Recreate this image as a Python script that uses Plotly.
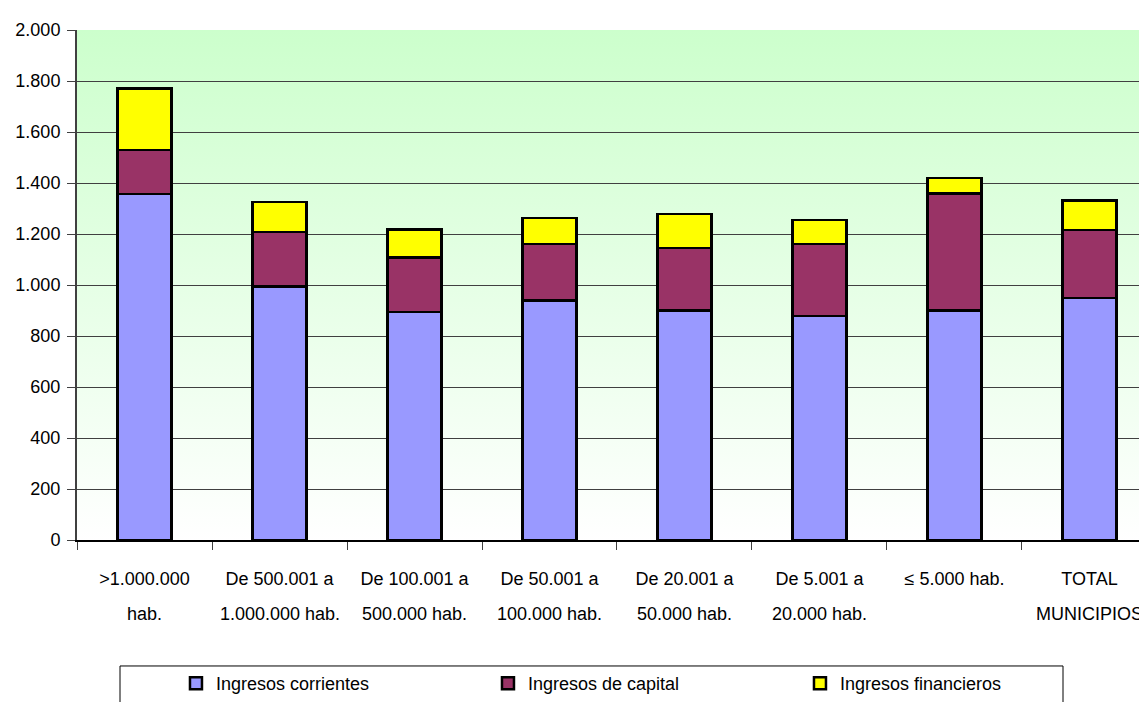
import base64

import plotly.graph_objects as go

# Categories (line 1 / line 2 of each label).
label_top = ['>1.000.000', 'De 500.001 a', 'De 100.001 a', 'De 50.001 a',
             'De 20.001 a', 'De 5.001 a', '≤ 5.000 hab.', 'TOTAL']
label_bottom = ['hab.', '1.000.000 hab.', '500.000 hab.', '100.000 hab.',
                '50.000 hab.', '20.000 hab.', '', 'MUNICIPIOS']
categories = [f'{a} {b}'.strip() for a, b in zip(label_top, label_bottom)]

# Series values (euros per inhabitant).
corrientes = [1357, 995, 894, 940, 901, 878, 901, 949]
capital = [172, 212, 213, 220, 245, 283, 457, 267]
financieros = [242, 118, 110, 103, 132, 94, 62, 116]

y_ticks = list(range(0, 2001, 200))

FONT = 'Liberation Sans, Arial, sans-serif'

series = [
    ('Ingresos corrientes', corrientes, '#9999FF'),
    ('Ingresos de capital', capital, '#993366'),
    ('Ingresos financieros', financieros, '#FFFF00'),
]

traces = []
for name, values, color in series:
    traces.append(go.Bar(
        x=categories,
        y=values,
        name=name,
        width=0.4,
        marker={'color': color, 'line': {'color': 'black', 'width': 2.5}},
    ))

# Green-to-white background of the plot area.
svg = ('<svg xmlns="http://www.w3.org/2000/svg" width="100" height="100" '
       'preserveAspectRatio="none"><defs><linearGradient id="g" x1="0" y1="0" '
       'x2="0" y2="1"><stop offset="0" stop-color="#CCFFCC"/>'
       '<stop offset="1" stop-color="#FFFFFF"/></linearGradient></defs>'
       '<rect width="100" height="100" fill="url(#g)"/></svg>')
bg_src = 'data:image/svg+xml;base64,' + base64.b64encode(svg.encode()).decode()

annotations = [
    {
        'x': cat, 'y': 0, 'xref': 'x', 'yref': 'y',
        'text': bottom, 'showarrow': False,
        'yanchor': 'middle', 'yshift': -74,
        'font': {'family': FONT, 'size': 18, 'color': 'black'},
    }
    for cat, bottom in zip(categories, label_bottom) if bottom
]

# The page body adds an 8px offset, so the figure is 8px smaller.
layout = {
    'width': 1139,
    'height': 694,
    'margin': {'l': 69, 'r': 0, 't': 22, 'b': 162},
    'paper_bgcolor': 'white',
    'plot_bgcolor': 'rgba(0,0,0,0)',
    'barmode': 'stack',
    'separators': ',.',
    'font': {'family': FONT, 'size': 18, 'color': 'black'},
    'images': [{
        'source': bg_src, 'xref': 'paper', 'yref': 'paper',
        'x': 0, 'y': 1, 'sizex': 1, 'sizey': 1,
        'sizing': 'stretch', 'layer': 'below',
    }],
    # Legend frame.
    'shapes': [{
        'type': 'rect', 'xref': 'paper', 'yref': 'paper',
        'x0': 0.0402, 'x1': 0.9215, 'y0': -0.247, 'y1': -0.40,
        'line': {'color': 'black', 'width': 1},
        'fillcolor': 'rgba(0,0,0,0)',
    }],
    'xaxis': {
        'type': 'category',
        'range': [-0.5, 7.426],
        'automargin': False,
        'tickmode': 'array',
        'tickvals': categories,
        'ticktext': label_top,
        'tickson': 'boundaries',
        'ticks': 'outside',
        'ticklen': 8,
        'tickcolor': '#404040',
        'ticklabelstandoff': 22,
        'showgrid': False,
        'showline': True,
        'linecolor': 'black',
        'linewidth': 1.5,
        'zeroline': False,
    },
    'yaxis': {
        'range': [0, 2000],
        'automargin': False,
        'tickmode': 'array',
        'tickvals': y_ticks,
        'tickformat': ',d',
        'ticks': 'outside',
        'ticklen': 8,
        'tickcolor': '#404040',
        'ticklabelstandoff': 3,
        'showgrid': True,
        'gridcolor': '#404040',
        'gridwidth': 1,
        'showline': True,
        'linecolor': '#404040',
        'linewidth': 2,
        'zeroline': False,
    },
    'legend': {
        'orientation': 'h',
        'x': 0.0925, 'xanchor': 'left',
        'y': -0.245, 'yanchor': 'top',
        'entrywidth': 267,
        'traceorder': 'normal',
        'borderwidth': 0,
        'bgcolor': 'rgba(0,0,0,0)',
        'font': {'family': FONT, 'size': 18},
    },
    'annotations': annotations,
    'showlegend': True,
}

fig = go.Figure(data=traces, layout=layout)
fig.write_html('out.html')
